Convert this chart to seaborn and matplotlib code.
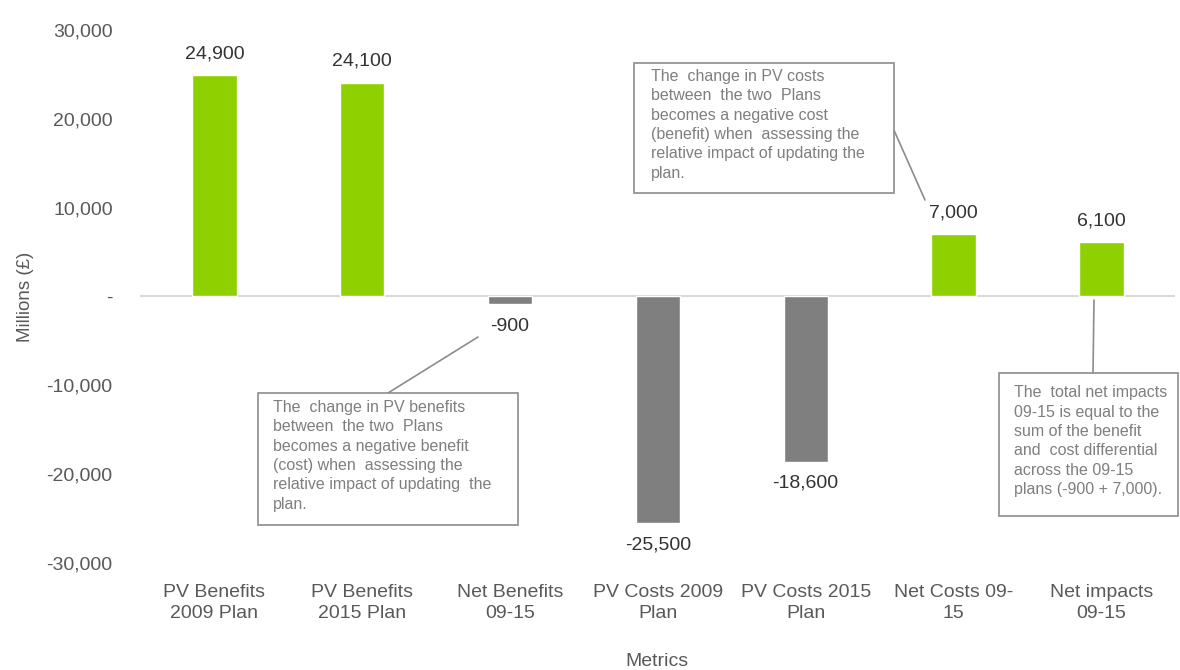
import matplotlib
matplotlib.use("Agg")
import matplotlib.pyplot as plt
import matplotlib.patches as patches
from matplotlib.lines import Line2D
import seaborn as sns
import pandas as pd

# Data
categories = ["PV Benefits\n2009 Plan", "PV Benefits\n2015 Plan", "Net Benefits\n09-15",
              "PV Costs 2009\nPlan", "PV Costs 2015\nPlan", "Net Costs 09-\n15", "Net impacts\n09-15"]
values = [24900, 24100, -900, -25500, -18600, 7000, 6100]
value_labels = ["24,900", "24,100", "-900", "-25,500", "-18,600", "7,000", "6,100"]
yticks = [-30000, -20000, -10000, 0, 10000, 20000, 30000]
ytick_labels = ["-30,000", "-20,000", "-10,000", "-", "10,000", "20,000", "30,000"]

note_costs = ("The  change in PV costs\nbetween  the two  Plans\nbecomes a negative cost\n"
              "(benefit) when  assessing the\nrelative impact of updating the\nplan.")
note_benefits = ("The  change in PV benefits\nbetween  the two  Plans\nbecomes a negative benefit\n"
                 "(cost) when  assessing the\nrelative impact of updating  the\nplan.")
note_net = ("The  total net impacts\n09-15 is equal to the\nsum of the benefit\n"
            "and  cost differential\nacross the 09-15\nplans (-900 + 7,000).")

GREEN = "#8fd000"
GREY = "#7f7f7f"
TXT = "#595959"

df = pd.DataFrame({"cat": categories, "val": values})
colors = [GREEN if v > 0 else GREY for v in values]

sns.set_style("white")
plt.rcParams["font.family"] = ["Liberation Sans", "DejaVu Sans"]

fig = plt.figure(figsize=(11.8, 6.7), dpi=100)
ax = fig.add_axes([0.119, 0.16, 0.877, 0.795])

sns.barplot(data=df, x="cat", y="val", hue="cat", palette=colors, legend=False,
            width=0.3, ax=ax, saturation=1)

ax.set_ylim(-30000, 30000)
ax.set_xlim(-0.5, len(categories) - 0.5)
ax.set_yticks(yticks)
ax.set_yticklabels(ytick_labels)
ax.tick_params(axis="both", length=0, labelsize=14, labelcolor=TXT)
ax.tick_params(axis="x", pad=15)
ax.tick_params(axis="y", pad=20)
for t in ax.get_xticklabels():
    t.set_linespacing(1.35)
ax.axhline(0, color="#d9d9d9", lw=1.5, zorder=0)
for s in ax.spines.values():
    s.set_visible(False)

ax.set_xlabel("")
ax.set_ylabel("Millions (£)", fontsize=13.5, color=TXT, labelpad=9)
fig.text(0.557, 0.012, "Metrics", ha="center", va="center", fontsize=14, color=TXT)

for i, (v, lab) in enumerate(zip(values, value_labels)):
    if v >= 0:
        ax.text(i, v + 1500, lab, ha="center", va="bottom", fontsize=14, color="#333333")
    else:
        ax.text(i, v - 1500, lab, ha="center", va="top", fontsize=14, color="#333333")

# annotation boxes (figure fraction)
def note(x0, y0, w, h, txt, tx, ty):
    fig.patches.append(patches.Rectangle((x0, y0), w, h, transform=fig.transFigure,
                                         facecolor="white", edgecolor="#8c8c8c", lw=1.2, zorder=5))
    fig.text(tx, ty, txt, ha="left", va="top", fontsize=11.5, color=GREY,
             linespacing=1.36, zorder=6)

note(0.537, 0.712, 0.221, 0.194, note_costs, 0.552, 0.897)
note(0.219, 0.216, 0.220, 0.197, note_benefits, 0.231, 0.403)
note(0.847, 0.230, 0.151, 0.213, note_net, 0.859, 0.425)

for (x1, y1), (x2, y2) in [((893, 128), (925, 200)), ((388, 393), (478, 337)), ((1094, 300), (1093, 373))]:
    fig.lines.append(Line2D([x1 / 1180, x2 / 1180], [1 - y1 / 670, 1 - y2 / 670],
                            transform=fig.transFigure, color="#8c8c8c", lw=1.2))

fig.savefig("out.png", dpi=100)
